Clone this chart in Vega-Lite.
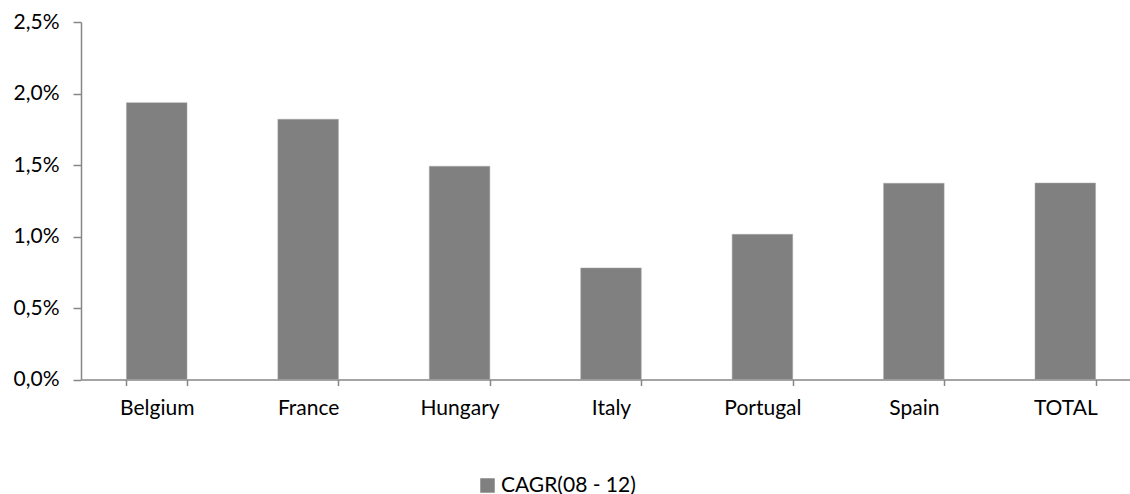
{
  "$schema": "https://vega.github.io/schema/vega-lite/v6.json",
  "autosize": {"type": "none"},
  "width": 1060,
  "height": 357.5,
  "padding": {"left": 81, "top": 22, "right": 0, "bottom": 115},
  "background": "white",
  "config": {
    "view": {"stroke": null},
    "font": "Lato",
    "axis": {"labelFont": "Lato", "labelFontSize": 21, "labelColor": "#000000", "domainColor": "#868686", "tickColor": "#868686", "ticks": true, "grid": false, "title": null},
    "legend": {"labelFont": "Lato", "labelFontSize": 21, "labelColor": "#000000"}
  },
  "data": {
    "values": [
      {"country": "Belgium", "series": "CAGR(08 - 12)", "cagr": 0.01936},
      {"country": "France", "series": "CAGR(08 - 12)", "cagr": 0.0182},
      {"country": "Hungary", "series": "CAGR(08 - 12)", "cagr": 0.01491},
      {"country": "Italy", "series": "CAGR(08 - 12)", "cagr": 0.0078},
      {"country": "Portugal", "series": "CAGR(08 - 12)", "cagr": 0.01015},
      {"country": "Spain", "series": "CAGR(08 - 12)", "cagr": 0.01372},
      {"country": "TOTAL", "series": "CAGR(08 - 12)", "cagr": 0.01374}
    ]
  },
  "mark": {"type": "bar", "stroke": "#a6a6a6", "strokeWidth": 0.5},
  "encoding": {
    "x": {
      "field": "country",
      "type": "nominal",
      "sort": null,
      "scale": {"paddingInner": 0.6, "paddingOuter": 0.3},
      "axis": {"labelAngle": 0, "tickBand": "extent", "tickSize": 6, "tickWidth": 1.5, "labelPadding": 12, "domainWidth": 1.5}
    },
    "y": {
      "field": "cagr",
      "type": "quantitative",
      "scale": {"domain": [0, 0.025], "nice": false},
      "axis": {
        "values": [0, 0.005, 0.01, 0.015, 0.02, 0.025],
        "labelExpr": "replace(format(datum.value, '.1%'), '.', ',')",
        "tickSize": 8,
        "tickWidth": 1.5,
        "labelPadding": 14,
        "domainWidth": 1.5
      }
    },
    "color": {
      "field": "series",
      "type": "nominal",
      "title": null,
      "scale": {"range": ["#808080"]},
      "legend": {"orient": "none", "legendX": 396, "legendY": 453, "symbolType": "square", "symbolSize": 210, "symbolStrokeWidth": 0, "labelOffset": 3}
    }
  }
}
